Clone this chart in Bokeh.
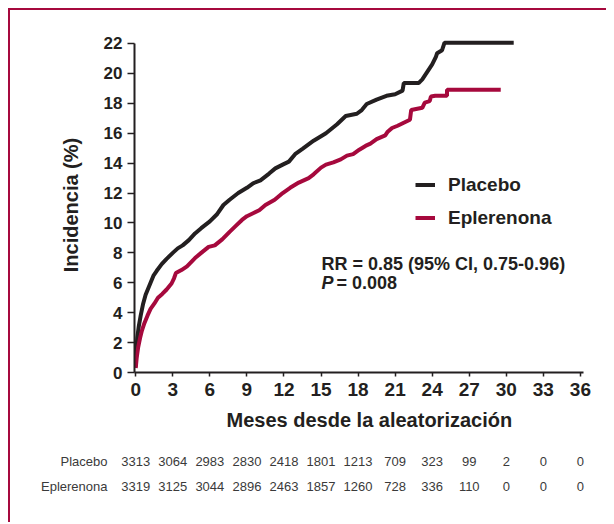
from bokeh.plotting import figure
from bokeh.models import Range1d, FixedTicker, Legend, LegendItem, Label, Title
from bokeh.layouts import column
from bokeh.embed import file_html
from bokeh.resources import INLINE
from bokeh.core.properties import value

# ---------------- data ----------------
series_names = ["Placebo", "Eplerenona"]

placebo_months = [0.0, 0.05, 0.12, 0.25, 0.4, 0.6, 0.8, 1.0, 1.2, 1.45, 1.7, 2.1, 2.5, 3.0,
                  3.4, 3.8, 4.3, 4.8, 5.3, 6.0, 6.6, 7.1, 7.6, 8.3, 9.0, 9.5, 10.1, 10.8,
                  11.3, 11.9, 12.4, 12.9, 13.5, 14.4, 15.4, 16.3, 17.0, 17.9, 18.3, 18.7,
                  19.5, 20.3, 21.0, 21.6, 21.7, 22.9, 23.2, 23.6, 24.0, 24.3, 24.4, 24.8,
                  25.0, 30.6]
placebo_pct = [0.4, 1.5, 2.3, 3.1, 3.8, 4.6, 5.2, 5.6, 6.0, 6.5, 6.8, 7.25, 7.6, 8.0,
               8.3, 8.5, 8.85, 9.3, 9.65, 10.1, 10.6, 11.2, 11.55, 12.0, 12.35, 12.65, 12.85, 13.3,
               13.65, 13.9, 14.1, 14.6, 14.95, 15.5, 16.0, 16.6, 17.15, 17.3, 17.55, 17.95,
               18.25, 18.5, 18.6, 18.85, 19.35, 19.35, 19.6, 20.1, 20.6, 21.1, 21.35, 21.55,
               22.05, 22.05]

eplerenona_months = [0.0, 0.08, 0.2, 0.35, 0.5, 0.7, 0.95, 1.2, 1.5, 1.8, 2.15, 2.5, 2.9,
                     3.1, 3.25, 3.7, 4.15, 4.8, 5.3, 5.9, 6.4, 7.0, 7.6, 8.1, 8.6, 9.0, 9.5,
                     10.0, 10.5, 11.25, 11.9, 12.5, 13.2, 14.0, 14.4, 15.0, 15.4, 16.0, 16.6,
                     17.1, 17.6, 18.1, 18.6, 19.0, 19.5, 20.2, 20.4, 20.75, 21.2, 21.7, 22.2,
                     22.3, 22.6, 23.2, 23.4, 23.8, 23.9, 24.25, 25.2, 25.2, 29.55]
eplerenona_pct = [0.3, 1.0, 1.7, 2.3, 2.8, 3.3, 3.8, 4.25, 4.6, 5.0, 5.25, 5.55, 5.95,
                  6.3, 6.65, 6.85, 7.1, 7.65, 8.0, 8.4, 8.5, 8.9, 9.4, 9.8, 10.2, 10.45, 10.65,
                  10.85, 11.2, 11.55, 12.0, 12.35, 12.7, 13.0, 13.25, 13.7, 13.9, 14.05, 14.25,
                  14.5, 14.6, 14.9, 15.15, 15.3, 15.6, 15.85, 16.1, 16.35, 16.5, 16.7, 16.9,
                  17.55, 17.6, 17.7, 18.05, 18.15, 18.45, 18.5, 18.5, 18.9, 18.9]

y_ticks = [0, 2, 4, 6, 8, 10, 12, 14, 16, 18, 20, 22]
x_ticks = [0, 3, 6, 9, 12, 15, 18, 21, 24, 27, 30, 33, 36]

placebo_at_risk = [3313, 3064, 2983, 2830, 2418, 1801, 1213, 709, 323, 99, 2, 0, 0]
eplerenona_at_risk = [3319, 3125, 3044, 2896, 2463, 1857, 1260, 728, 336, 110, 0, 0, 0]

rr_text = "RR = 0.85 (95% CI, 0.75-0.96)"
p_symbol = "P"
p_text = "= 0.008"
x_title = "Meses desde la aleatorización"
y_title = "Incidencia (%)"

# ---------------- style ----------------
FONT = "Liberation Sans"
DARK = "#231f20"
RED = "#a6093d"
TABLE = "#3a3a3a"

p = figure(width=596, height=436,
           x_range=Range1d(-0.1, 36.25), y_range=Range1d(0, 22.4),
           output_backend="svg", toolbar_location=None,
           min_border_left=124, min_border_right=23,
           min_border_top=27, min_border_bottom=74)
p.grid.visible = False
p.outline_line_color = None
p.background_fill_color = "white"
p.border_fill_color = "white"

r1 = p.line(placebo_months, placebo_pct, line_color=DARK, line_width=4)
r2 = p.line(eplerenona_months, eplerenona_pct, line_color=RED, line_width=4)

for ax in (p.xaxis[0], p.yaxis[0]):
    ax.axis_line_color = DARK
    ax.axis_line_width = 2
    ax.major_tick_line_color = DARK
    ax.major_tick_line_width = 1.5
    ax.minor_tick_line_color = None
    ax.major_tick_in = 0
    ax.major_label_text_font = FONT
    ax.major_label_text_font_style = "bold"
    ax.major_label_text_color = DARK

p.xaxis.ticker = FixedTicker(ticks=x_ticks)
p.xaxis.major_tick_out = 4
p.xaxis.major_label_text_font_size = "19px"
p.xaxis.major_label_standoff = 6

p.yaxis.ticker = FixedTicker(ticks=y_ticks)
p.yaxis.bounds = (0, 22)
p.yaxis.major_tick_out = 7
p.yaxis.major_label_text_font_size = "17px"
p.yaxis.major_label_standoff = 5
p.yaxis.axis_label = y_title
p.yaxis.axis_label_text_font = FONT
p.yaxis.axis_label_text_font_size = "20px"
p.yaxis.axis_label_text_font_style = "bold"
p.yaxis.axis_label_text_color = DARK
p.yaxis.axis_label_standoff = 19

p.add_layout(Title(text=x_title, align="left", offset=92, standoff=16,
                   text_font=FONT, text_font_size="20px", text_font_style="bold",
                   text_color=DARK), "below")

legend = Legend(items=[LegendItem(label=series_names[0], renderers=[r1]),
                       LegendItem(label=series_names[1], renderers=[r2])],
                location=(281, 142), orientation="vertical", padding=0, margin=0,
                spacing=8, glyph_width=20, glyph_height=25, label_height=25,
                label_standoff=13, label_text_font=FONT, label_text_font_size="19px",
                label_text_font_style="bold", label_text_color=DARK,
                border_line_color=None, background_fill_alpha=0)
p.add_layout(legend)

p.add_layout(Label(x=15.04, y=7.27, text=rr_text, text_font=FONT, text_font_size="18px",
                   text_font_style="bold", text_color=DARK, text_baseline="alphabetic"))
p.add_layout(Label(x=15.04, y=6.0, text=p_symbol, text_font=FONT, text_font_size="18px",
                   text_font_style="bold italic", text_color=DARK, text_baseline="alphabetic"))
p.add_layout(Label(x=15.04, y=6.0, x_offset=15, text=p_text, text_font=FONT,
                   text_font_size="18px", text_font_style="bold", text_color=DARK,
                   text_baseline="alphabetic"))

# ---------------- number-at-risk table ----------------
# same horizontal scale as the plot above (12.352 px per month), wider frame
t = figure(width=596, height=76, x_range=Range1d(-1.233, 36.817),
           y_range=Range1d(-0.448, 2.592),
           output_backend="svg", toolbar_location=None, x_axis_location=None,
           min_border_left=110, min_border_right=16, min_border_top=0, min_border_bottom=0)
t.grid.visible = False
t.outline_line_color = None
row_y = [2, 1]
t.yaxis.ticker = FixedTicker(ticks=row_y)
t.yaxis.major_label_overrides = {row_y[0]: series_names[0], row_y[1]: series_names[1]}
t.yaxis.axis_line_color = None
t.yaxis.major_tick_line_color = None
t.yaxis.minor_tick_line_color = None
t.yaxis.major_tick_out = 0
t.yaxis.major_label_standoff = 13
t.yaxis.major_label_text_font = FONT
t.yaxis.major_label_text_font_size = "13px"
t.yaxis.major_label_text_font_style = "normal"
t.yaxis.major_label_text_color = TABLE

for yy, counts in zip(row_y, [placebo_at_risk, eplerenona_at_risk]):
    t.text(x=x_ticks, y=[yy] * len(x_ticks), text=[str(c) for c in counts],
           text_align="center", text_baseline="middle", text_font=value(FONT),
           text_font_size="13px", text_color=TABLE)

# keep each figure's own frame (no cross-figure frame alignment)
for fig in (p, t):
    if "frame_align" in fig.properties():
        fig.frame_align = False

layout = column(p, t, styles={"margin-left": "8px", "margin-top": "8px",
                              "border-top": "2px solid " + RED,
                              "border-left": "2px solid " + RED})

open("out.html", "w").write(file_html(layout, INLINE))
